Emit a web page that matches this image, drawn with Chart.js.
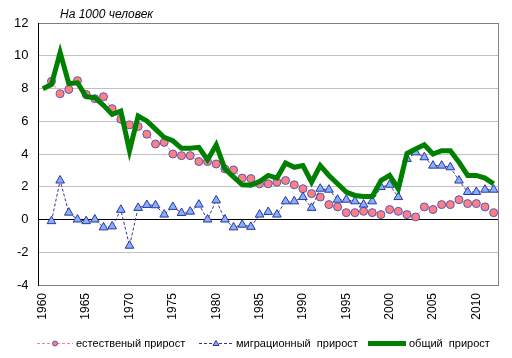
<!DOCTYPE html>
<html>
<head>
<meta charset="utf-8">
<script src="https://cdn.jsdelivr.net/npm/chart.js@4"></script>
<style>
  html, body { margin: 0; padding: 0; background: #fff; }
  #wrap { width: 512px; height: 358px; }
</style>
</head>
<body>
<div id="wrap"><canvas id="chart" width="512" height="358"></canvas></div>
<script>
// years 1960..2012
const years = [];
for (let y = 1960; y <= 2012; y++) years.push(String(y));

// естественный прирост (per 1000)
const natural = [null,
  8.44, 7.68, 7.94, 8.48, 7.64, 7.38, 7.50, 6.77, 6.12, 5.78,
  5.68, 5.21, 4.61, 4.71, 4.00, 3.90, 3.90, 3.54, 3.54, 3.39,
  3.09, 3.03, 2.53, 2.50, 2.18, 2.18, 2.28, 2.38, 2.12, 1.88,
  1.58, 1.37, 0.91, 0.77, 0.42, 0.42, 0.50, 0.42, 0.30, 0.61,
  0.50, 0.30, 0.16, 0.77, 0.61, 0.91, 0.91, 1.21, 0.97, 0.97,
  0.77, 0.42];

// миграционный прирост
const migration = [null,
  -0.10, 2.38, 0.42, 0.00, -0.10, 0.00, -0.48, -0.42, 0.59, -1.60,
  0.71, 0.89, 0.87, 0.30, 0.77, 0.40, 0.48, 0.91, 0.00, 1.17,
  0.00, -0.48, -0.32, -0.45, 0.30, 0.46, 0.30, 1.11, 1.11, 1.37,
  0.71, 1.88, 1.82, 1.21, 1.21, 1.11, 0.91, 1.11, 1.98, 2.12,
  1.37, 3.70, 4.10, 3.80, 3.29, 3.29, 3.19, 2.38, 1.68, 1.68,
  1.82, 1.82];

// общий прирост
const total = [7.98,
  8.24, 10.20, 8.30, 8.35, 7.50, 7.44, 6.97, 6.42, 6.62, 4.20,
  6.32, 6.02, 5.52, 5.01, 4.81, 4.35, 4.35, 4.41, 3.64, 4.55,
  3.09, 2.60, 2.12, 2.10, 2.32, 2.69, 2.53, 3.45, 3.19, 3.29,
  2.28, 3.29, 2.69, 2.18, 1.68, 1.47, 1.41, 1.41, 2.38, 2.69,
  1.88, 4.03, 4.30, 4.56, 4.00, 4.20, 4.20, 3.50, 2.69, 2.69,
  2.53, 2.18];

const yTicks = [-4, -2, 0, 2, 4, 6, 8, 10, 12];

const legendItems = [
  { text: 'естественый прирост', color: '#ff8080', dash: [3, 2], width: 1, marker: 'circle' },
  { text: 'миграционный  прирост', color: '#333399', dash: [3, 2], width: 1, marker: 'triangle' },
  { text: 'общий  прирост', color: '#008000', dash: [], width: 5, marker: null }
];

const FONT = 'Arial, "Liberation Sans", sans-serif';

// border, title and legend drawn on the canvas
const decorations = {
  id: 'decorations',
  beforeDatasetsDraw(chart) {
    const { ctx, chartArea: a } = chart;
    ctx.save();
    ctx.strokeStyle = '#808080';
    ctx.lineWidth = 1;
    ctx.strokeRect(Math.round(a.left) + 0.5, Math.round(a.top) + 0.5,
      Math.round(a.right - a.left), Math.round(a.bottom - a.top));
    // left axis in black
    ctx.strokeStyle = '#000';
    ctx.beginPath();
    ctx.moveTo(Math.round(a.left) + 0.5, a.top);
    ctx.lineTo(Math.round(a.left) + 0.5, a.bottom + 1);
    ctx.stroke();
    ctx.restore();
  },
  afterDraw(chart) {
    const { ctx } = chart;
    ctx.save();
    ctx.fillStyle = '#000';
    ctx.font = 'italic 12px ' + FONT;
    ctx.textBaseline = 'alphabetic';
    ctx.fillText('На 1000 человек', 60, 18);

    // legend
    ctx.font = '11px ' + FONT;
    ctx.textBaseline = 'middle';
    const ly = 343;
    const xs = [37, 199, 368];
    const lens = [36, 34, 38];
    legendItems.forEach((it, i) => {
      const x0 = xs[i];
      ctx.strokeStyle = it.color;
      ctx.lineWidth = it.width;
      ctx.setLineDash(it.dash);
      ctx.beginPath();
      ctx.moveTo(x0, ly + 0.5);
      ctx.lineTo(x0 + lens[i], ly + 0.5);
      ctx.stroke();
      ctx.setLineDash([]);
      const cx = x0 + lens[i] / 2;
      if (it.marker === 'circle') {
        ctx.fillStyle = '#ff8080';
        ctx.strokeStyle = '#5555bb';
        ctx.lineWidth = 1;
        ctx.beginPath();
        ctx.arc(cx, ly + 0.5, 2.5, 0, Math.PI * 2);
        ctx.fill();
        ctx.stroke();
      } else if (it.marker === 'triangle') {
        ctx.fillStyle = '#7fb2ff';
        ctx.strokeStyle = '#333399';
        ctx.lineWidth = 1;
        ctx.beginPath();
        ctx.moveTo(cx, ly - 2.5);
        ctx.lineTo(cx + 3, ly + 2.5);
        ctx.lineTo(cx - 3, ly + 2.5);
        ctx.closePath();
        ctx.fill();
        ctx.stroke();
      }
      ctx.fillStyle = '#000';
      ctx.fillText(it.text, x0 + lens[i] + 3, ly + 1);
    });
    ctx.restore();
  }
};

new Chart(document.getElementById('chart'), {
  type: 'line',
  data: {
    labels: years,
    datasets: [
      {
        label: 'естественый прирост',
        data: natural,
        borderColor: '#ff8080',
        borderWidth: 1,
        borderDash: [3, 2],
        pointRadius: 4,
        pointBackgroundColor: '#ff8080',
        pointBorderColor: '#5555bb',
        pointBorderWidth: 1,
        order: 2
      },
      {
        label: 'миграционный прирост',
        data: migration,
        borderColor: '#333399',
        borderWidth: 1,
        borderDash: [3, 2],
        pointStyle: 'triangle',
        pointRadius: 5,
        pointBackgroundColor: '#7fb2ff',
        pointBorderColor: '#333399',
        pointBorderWidth: 1,
        order: 1
      },
      {
        label: 'общий прирост',
        data: total,
        borderColor: '#008000',
        borderWidth: 5,
        pointRadius: 0,
        borderJoinStyle: 'miter',
        order: 0
      }
    ]
  },
  options: {
    responsive: false,
    animation: false,
    layout: { padding: { top: 23, right: 14, bottom: 30.3, left: 4 } },
    plugins: {
      legend: { display: false },
      tooltip: { enabled: false }
    },
    scales: {
      x: {
        offset: true,
        grid: { display: false, drawTicks: false },
        border: { display: false },
        afterFit: (scale) => { scale.paddingLeft = 0; scale.paddingRight = 0; },
        ticks: {
          autoSkip: false,
          minRotation: 90,
          maxRotation: 90,
          padding: 8,
          color: '#000',
          font: { family: FONT, size: 12 },
          callback: function (v, i) {
            const y = Number(years[i]);
            return y % 5 === 0 ? String(y) : '';
          }
        }
      },
      y: {
        min: -4,
        max: 12,
        afterBuildTicks: (axis) => { axis.ticks = yTicks.map(v => ({ value: v })); },
        grid: {
          drawTicks: false,
          color: (c) => c.tick && c.tick.value === 0 ? '#000' : '#c0c0c0',
          lineWidth: 1
        },
        border: { display: false },
        ticks: {
          padding: 10,
          color: '#000',
          font: { family: FONT, size: 13 }
        }
      }
    }
  },
  plugins: [decorations]
});
</script>
</body>
</html>
